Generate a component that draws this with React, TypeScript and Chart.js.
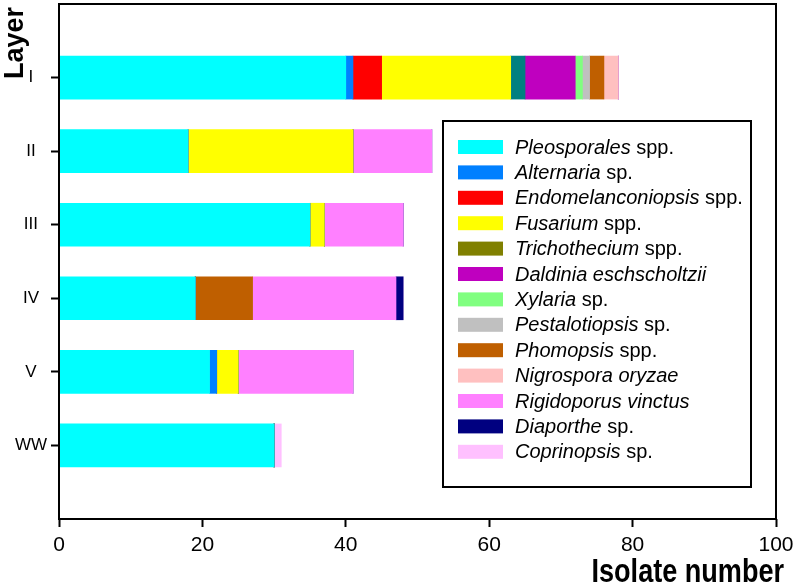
import React, { useEffect, useRef } from 'react';
import { Chart, registerables } from 'chart.js';

Chart.register(...registerables);

// ---------- data ----------
const layers = ['I', 'II', 'III', 'IV', 'V', 'WW'];
const xTickValues = [0, 20, 40, 60, 80, 100];
const xTitle = 'Isolate number';
const yTitle = 'Layer';

const speciesItalic = [
  'Pleosporales',
  'Alternaria',
  'Endomelanconiopsis',
  'Fusarium',
  'Trichothecium',
  'Daldinia eschscholtzii',
  'Xylaria',
  'Pestalotiopsis',
  'Phomopsis',
  'Nigrospora oryzae',
  'Rigidoporus vinctus',
  'Diaporthe',
  'Coprinopsis',
];
const speciesSuffix = [' spp.', ' sp.', ' spp.', ' spp.', ' spp.', '', ' sp.', ' sp.', ' spp.', '', '', ' sp.', ' sp.'];

const barColors = [
  '#00ffff', '#0080ff', '#ff0000', '#ffff00', '#008080', '#bf00bf', '#80ff80',
  '#c0c0c0', '#bf5f00', '#ffc0c0', '#ff80ff', '#000080', '#ffc0ff',
];
const legendColors = [
  '#00ffff', '#0080ff', '#ff0000', '#ffff00', '#808000', '#bf00bf', '#80ff80',
  '#c0c0c0', '#bf5f00', '#ffc0c0', '#ff80ff', '#000080', '#ffc0ff',
];

// isolates per layer (I, II, III, IV, V, WW)
const pleosporales = [40, 18, 35, 19, 21, 30];
const alternaria = [1, 0, 0, 0, 1, 0];
const endomelanconiopsis = [4, 0, 0, 0, 0, 0];
const fusarium = [18, 23, 2, 0, 3, 0];
const trichothecium = [2, 0, 0, 0, 0, 0];
const daldinia = [7, 0, 0, 0, 0, 0];
const xylaria = [1, 0, 0, 0, 0, 0];
const pestalotiopsis = [1, 0, 0, 0, 0, 0];
const phomopsis = [2, 0, 0, 8, 0, 0];
const nigrospora = [2, 0, 0, 0, 0, 0];
const rigidoporus = [0, 11, 11, 20, 16, 0];
const diaporthe = [0, 0, 0, 1, 0, 0];
const coprinopsis = [0, 0, 0, 0, 0, 1];

const seriesValues = [
  pleosporales, alternaria, endomelanconiopsis, fusarium, trichothecium, daldinia,
  xylaria, pestalotiopsis, phomopsis, nigrospora, rigidoporus, diaporthe, coprinopsis,
];

const SANS = "'Liberation Sans', Arial, sans-serif";

// padded category list: empty slot above I and below WW
const paddedLabels = ['', ...layers, ''];

const framePlugin = {
  id: 'frameAndLegend',
  afterDraw(chart: any) {
    const { ctx, chartArea } = chart;
    const { left, right, top, bottom } = chartArea;
    ctx.save();
    // frame
    ctx.strokeStyle = '#000';
    ctx.lineWidth = 2;
    ctx.strokeRect(left, top, right - left, bottom - top);

    // x axis title (condensed bold)
    ctx.fillStyle = '#000';
    ctx.save();
    ctx.translate(784, 582);
    ctx.scale(0.82, 1);
    ctx.font = `bold 33px ${SANS}`;
    ctx.textAlign = 'right';
    ctx.textBaseline = 'alphabetic';
    ctx.fillText(xTitle, 0, 0);
    ctx.restore();

    // y axis title
    ctx.save();
    ctx.translate(16, top + 3);
    ctx.rotate(-Math.PI / 2);
    ctx.font = `bold 27px ${SANS}`;
    ctx.textAlign = 'right';
    ctx.textBaseline = 'middle';
    ctx.fillText(yTitle, 0, 0);
    ctx.restore();

    // legend box
    const bx = left + 384;
    const by = top + 117;
    const bw = 308;
    const bh = 366;
    ctx.fillStyle = '#fff';
    ctx.fillRect(bx, by, bw, bh);
    ctx.strokeStyle = '#000';
    ctx.lineWidth = 2;
    ctx.strokeRect(bx, by, bw, bh);

    const rowH = 25.4;
    const firstY = by + 26;
    chart.data.datasets.forEach((ds: any, i: number) => {
      const cy = firstY + i * rowH;
      ctx.fillStyle = legendColors[i];
      ctx.fillRect(bx + 15, cy - 7, 45, 14);
      let tx = bx + 72;
      ctx.fillStyle = '#000';
      ctx.textAlign = 'left';
      ctx.textBaseline = 'middle';
      ctx.font = `italic 20px ${SANS}`;
      ctx.fillText(speciesItalic[i], tx, cy + 1);
      tx += ctx.measureText(speciesItalic[i]).width;
      if (speciesSuffix[i]) {
        ctx.font = `20px ${SANS}`;
        ctx.fillText(speciesSuffix[i], tx, cy + 1);
      }
    });
    ctx.restore();
  },
};

export default function App() {
  const canvasRef = useRef<HTMLCanvasElement | null>(null);

  useEffect(() => {
    document.body.style.margin = '0';
    const canvas = canvasRef.current;
    if (!canvas) return;

    const datasets = seriesValues.map((vals, i) => ({
      label: speciesItalic[i] + speciesSuffix[i],
      data: [null, ...vals, null],
      backgroundColor: barColors[i],
      borderWidth: 0,
      barThickness: 43,
      stack: 's',
    }));

    const chart = new Chart(canvas, {
      type: 'bar',
      data: { labels: paddedLabels, datasets },
      options: {
        indexAxis: 'y',
        responsive: false,
        animation: false,
        layout: { padding: { top: 4, right: 19, left: 0, bottom: 0 } },
        plugins: {
          legend: { display: false },
          tooltip: { enabled: false },
        },
        scales: {
          x: {
            type: 'linear',
            stacked: true,
            min: 0,
            max: 100,
            afterBuildTicks: (scale: any) => {
              scale.ticks = xTickValues.map((v) => ({ value: v }));
            },
            afterFit: (scale: any) => {
              scale.height = 66;
              scale.paddingLeft = 0;
              scale.paddingRight = 0;
            },
            border: { display: false },
            grid: {
              offset: false,
              drawOnChartArea: false,
              drawTicks: true,
              tickLength: 8,
              tickWidth: 2,
              tickColor: '#000',
            },
            ticks: {
              color: '#000',
              padding: 6,
              font: { family: SANS, size: 21 },
              maxRotation: 0,
            },
          },
          y: {
            type: 'category',
            stacked: true,
            offset: false,
            afterFit: (scale: any) => {
              scale.width = 59;
              scale.paddingTop = 0;
              scale.paddingBottom = 0;
            },
            border: { display: false },
            grid: {
              offset: false,
              drawOnChartArea: false,
              drawTicks: true,
              tickLength: 8,
              tickWidth: 2,
              tickColor: (ctx: any) =>
                ctx.index === 0 || ctx.index === paddedLabels.length - 1 ? 'rgba(0,0,0,0)' : '#000',
            },
            ticks: {
              color: '#000',
              padding: 4,
              crossAlign: 'center',
              autoSkip: false,
              font: { family: SANS, size: 17 },
            },
          },
        },
      },
      plugins: [framePlugin],
    } as any);

    return () => {
      chart.destroy();
    };
  }, []);

  return (
    <div style={{ width: 795, height: 585 }}>
      <canvas ref={canvasRef} width={795} height={585} />
    </div>
  );
}
